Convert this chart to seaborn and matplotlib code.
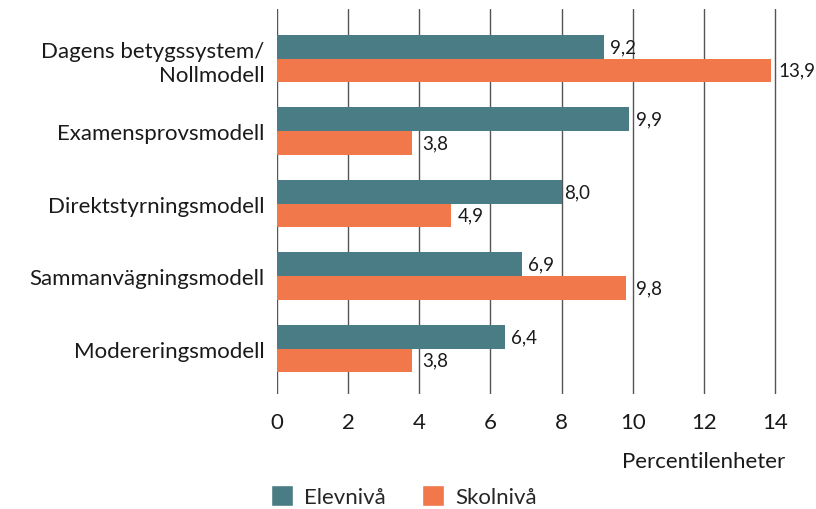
import numpy as np
import pandas as pd
import matplotlib.pyplot as plt
import seaborn as sns
from matplotlib.patches import Patch

# ── Data ─────────────────────────────────────────────────────────────────────
models = [
    "Dagens betygssystem/\nNollmodell",
    "Examensprovsmodell",
    "Direktstyrningsmodell",
    "Sammanvägningsmodell",
    "Modereringsmodell",
]
elevniva = [9.2, 9.9, 8.0, 6.9, 6.4]
skolniva = [13.9, 3.8, 4.9, 9.8, 3.8]
levels = ["Elevnivå", "Skolnivå"]
colors = ["#4A7C85", "#F0784A"]
x_ticks = [0, 2, 4, 6, 8, 10, 12, 14]

df = pd.DataFrame({
    "modell": models * 2,
    "niva": [levels[0]] * len(models) + [levels[1]] * len(models),
    "varde": elevniva + skolniva,
})

# ── Plot ─────────────────────────────────────────────────────────────────────
sns.set_style("white")
plt.rcParams["font.family"] = ["Lato", "DejaVu Sans"]
txt = "#1a1a1a"
fs = 16

fig = plt.figure(figsize=(8.16, 5.1), dpi=100)
ax = fig.add_axes([0.3395, 0.225, 0.632, 0.755])

sns.barplot(
    data=df, y="modell", x="varde", hue="niva", order=models,
    hue_order=levels, palette=colors, orient="h", width=0.65,
    saturation=1, ax=ax, legend=False, linewidth=0,
)

ax.set_xlim(0, 14.5)
ax.set_ylim(len(models) - 0.37, -0.68)
ax.set_xticks(x_ticks)

# value labels, nudged past a gridline when they would sit on it
px_per_unit = ax.get_position().width * fig.get_figwidth() * fig.dpi / 14.5
for container in ax.containers:
    for bar, v in zip(container, container.datavalues):
        end_px = v * px_per_unit
        start_px = end_px + 6
        for t in x_ticks:
            t_px = t * px_per_unit
            if end_px < t_px + 0.5 and t_px < start_px + 3:
                start_px = t_px + 3
        y = bar.get_y() + bar.get_height() / 2
        ax.annotate(f"{v:.1f}".replace(".", ","), (v, y),
                    xytext=(start_px - end_px, 0), textcoords="offset pixels",
                    ha="left", va="center", fontsize=13.5, color=txt,
                    annotation_clip=False)

ax.grid(axis="x", color="#555555", linewidth=1)
ax.set_axisbelow(True)
for s in ax.spines.values():
    s.set_visible(False)
ax.tick_params(axis="both", length=0, labelsize=fs, colors=txt)
ax.tick_params(axis="y", pad=9)
ax.tick_params(axis="x", pad=13)
for lab in ax.get_yticklabels():
    lab.set_linespacing(1.3)
ax.set_ylabel("")
ax.set_xlabel("")

fig.text(785 / 816, 1 - 462 / 510, "Percentilenheter", ha="right", va="center",
         fontsize=fs, color=txt)

handles = [Patch(facecolor=c, label=l) for c, l in zip(colors, levels)]
fig.legend(handles=handles, loc="center", bbox_to_anchor=(0.495, 0.026), ncol=2,
           frameon=False, fontsize=fs, handlelength=1.0, handleheight=1.1,
           columnspacing=1.6, handletextpad=0.5, borderpad=0)

fig.savefig("out.png", dpi=100)
